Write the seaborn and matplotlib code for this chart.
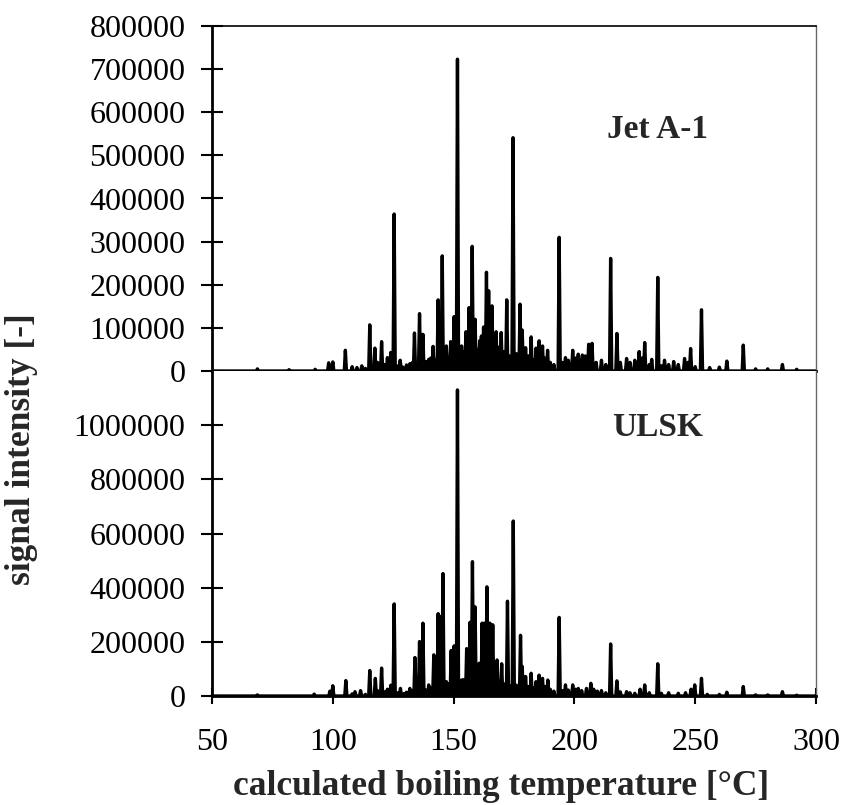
import numpy as np
import pandas as pd
import matplotlib
matplotlib.use("Agg")
import matplotlib.pyplot as plt
import seaborn as sns

# ---- peak tables: calculated boiling temperature [°C] and signal intensity [-] ----
jet_main_t = [68.8, 81.9, 92.7, 98.3, 100.0, 105.2, 115.3, 117.4, 120.2, 122.6, 124.0,
              125.4, 127.9, 131.9, 133.8, 135.9, 137.3, 139.7, 141.5, 143.6, 145.3, 147.0,
              148.8, 150.2, 151.6, 153.3, 155.1, 156.4, 157.7, 158.9, 161.5, 162.4, 163.6,
              164.5, 165.9, 167.6, 169.7, 172.0, 174.6, 177.5, 178.4, 179.8, 182.1, 184.1,
              185.4, 186.8, 188.9, 193.7, 196.3, 199.3, 201.6, 203.3, 205.9, 207.3, 211.2,
              215.0, 217.6, 221.6, 226.8, 229.1, 232.0, 234.5, 237.3, 241.1, 245.6, 248.1,
              252.6, 263.1, 269.9, 286.1]
jet_main_h = [5000, 3000, 4000, 19000, 21000, 48000, 107000, 53000, 68000, 31000, 43000,
              364000, 25000, 17000, 88000, 133000, 85000, 27000, 57000, 165000, 267000, 58000,
              68000, 126000, 723000, 58000, 91000, 147000, 289000, 120000, 81000, 102000, 229000,
              186000, 151000, 91000, 89000, 165000, 541000, 155000, 95000, 54000, 79000, 53000,
              70000, 58000, 48000, 310000, 31000, 48000, 39000, 37000, 62000, 64000, 25000,
              261000, 87000, 29000, 45000, 66000, 27000, 217000, 25000, 22000, 29000, 52000,
              142000, 23000, 60000, 15000]
jet_minor_t = [108.0, 110.0, 112.0, 113.5, 118.5, 121.5, 123.0, 127.0, 129.0, 130.5, 133.0,
               138.5, 140.5, 142.5, 146.0, 148.0, 149.5, 152.5, 154.0, 155.8, 157.0, 159.8,
               160.8, 163.0, 165.0, 166.8, 168.7, 170.8, 171.4, 173.0, 176.0, 178.9, 181.0,
               183.0, 187.7, 190.0, 191.5, 195.0, 197.5, 198.5, 200.5, 202.5, 204.5, 209.0,
               213.0, 219.0, 223.0, 225.0, 228.0, 231.0, 236.0, 239.0, 243.0, 247.0, 250.0,
               256.0, 260.0, 275.0, 280.0, 292.0]
jet_minor_h = [10000, 8000, 12000, 6000, 20000, 15000, 20000, 12000, 9000, 14000, 20000,
               22000, 30000, 25000, 35000, 30000, 40000, 30000, 45000, 60000, 40000, 50000,
               70000, 45000, 60000, 40000, 55000, 45000, 30000, 35000, 40000, 30000, 35000,
               25000, 30000, 20000, 15000, 20000, 25000, 15000, 30000, 25000, 35000, 20000,
               15000, 20000, 20000, 25000, 30000, 15000, 12000, 15000, 15000, 20000, 10000,
               8000, 9000, 5000, 5000, 4000]

ulsk_main_t = [68.8, 92.3, 98.8, 100.0, 105.4, 109.2, 111.5, 115.3, 117.6, 120.2, 122.6,
               124.0, 125.4, 128.0, 131.9, 134.0, 135.9, 137.3, 139.7, 141.8, 143.6, 144.4,
               145.6, 147.0, 149.0, 150.2, 151.6, 153.3, 155.4, 156.8, 157.8, 158.9, 160.6,
               161.8, 162.7, 163.8, 165.0, 166.2, 168.0, 169.9, 172.3, 174.7, 177.7, 178.4,
               179.8, 182.1, 184.1, 185.4, 186.8, 189.0, 193.7, 196.3, 199.3, 201.6, 206.8,
               211.2, 215.0, 217.6, 221.6, 227.2, 229.1, 234.5, 239.0, 246.0, 248.3, 249.8,
               252.6, 263.1, 269.9, 286.1]
ulsk_main_h = [4000, 7000, 18000, 38000, 57000, 16000, 20000, 94000, 65000, 103000, 25000,
               40000, 340000, 28000, 28000, 142000, 201000, 269000, 41000, 152000, 304000, 294000,
               452000, 53000, 168000, 185000, 1130000, 59000, 175000, 272000, 496000, 329000, 121000,
               269000, 269000, 403000, 269000, 263000, 133000, 119000, 350000, 646000, 224000, 109000,
               72000, 84000, 53000, 77000, 65000, 59000, 290000, 41000, 41000, 28000, 47000,
               20000, 192000, 56000, 16000, 25000, 41000, 119000, 12000, 12000, 25000, 41000,
               65000, 14000, 35000, 16000]
ulsk_minor_t = [108.0, 113.5, 118.5, 121.5, 123.0, 127.0, 129.5, 130.5, 133.0, 138.5, 140.5,
                142.5, 146.0, 148.0, 152.5, 154.0, 156.0, 157.2, 159.8, 161.0, 163.0, 164.5,
                167.0, 168.8, 170.8, 171.5, 173.0, 176.0, 179.0, 181.0, 183.0, 187.7, 190.0,
                191.5, 195.0, 197.5, 200.5, 203.0, 205.0, 208.0, 209.5, 213.0, 219.0, 223.0,
                225.0, 231.0, 236.0, 243.0, 255.0, 260.0, 275.0, 280.0, 292.0]
ulsk_minor_h = [8000, 6000, 20000, 15000, 20000, 12000, 9000, 14000, 20000, 22000, 30000,
                35000, 40000, 45000, 40000, 60000, 80000, 60000, 70000, 90000, 60000, 80000,
                60000, 55000, 45000, 35000, 40000, 40000, 30000, 35000, 30000, 35000, 25000,
                18000, 20000, 22000, 25000, 20000, 28000, 25000, 18000, 12000, 15000, 12000,
                10000, 12000, 10000, 10000, 6000, 6000, 4000, 4000, 3000]

x_ticks = [50, 100, 150, 200, 250, 300]
jet_y_ticks = [0, 100000, 200000, 300000, 400000, 500000, 600000, 700000, 800000]
ulsk_y_ticks = [0, 200000, 400000, 600000, 800000, 1000000]
panel_names = ["Jet A-1", "ULSK"]


def chromatogram(peak_t, peak_h, half_width=0.45, x0=50.0, x1=300.0):
    """Turn a peak table into a spiky trace that returns to the baseline between peaks."""
    t = np.asarray(peak_t, float)
    h = np.asarray(peak_h, float)
    order = np.argsort(t)
    xs, ys = [x0], [0.0]
    for p, v in zip(t[order], h[order]):
        xs += [p - half_width, p, p + half_width]
        ys += [0.0, v, 0.0]
    xs.append(x1)
    ys.append(0.0)
    return pd.DataFrame({"temperature": xs, "signal": ys})


jet_df = chromatogram(jet_main_t + jet_minor_t, jet_main_h + jet_minor_h)
ulsk_df = chromatogram(ulsk_main_t + ulsk_minor_t, ulsk_main_h + ulsk_minor_h)

sns.set_theme(style="ticks")
plt.rcParams["font.family"] = ["Liberation Serif", "DejaVu Serif"]
plt.rcParams["font.size"] = 23

fig = plt.figure(figsize=(8.42, 8.05), dpi=100)
W, H = 842.0, 805.0
left, right = 212 / W, 816 / W
ax_top = fig.add_axes([left, 1 - 371 / H, right - left, (371 - 26) / H])
ax_bot = fig.add_axes([left, 1 - 696 / H, right - left, (696 - 371) / H], sharex=ax_top)

for ax, df, yt, ymax in [(ax_top, jet_df, jet_y_ticks, 800000),
                         (ax_bot, ulsk_df, ulsk_y_ticks, 1200000)]:
    sns.lineplot(data=df, x="temperature", y="signal", ax=ax, sort=False,
                 estimator=None, color="black", linewidth=2.4)
    ax.set_xlim(50, 300)
    ax.set_ylim(0, ymax)
    ax.set_yticks(yt)
    ax.set_yticklabels([str(v) for v in yt])
    ax.set_xlabel("")
    ax.set_ylabel("")
    ax.tick_params(axis="y", direction="inout", length=16, width=1.5, pad=11,
                   labelsize=23, colors="black")
    for s in ("left", "bottom"):
        ax.spines[s].set_linewidth(2.0)
        ax.spines[s].set_color("black")
    ax.spines["right"].set_visible(True)
    ax.spines["right"].set_linewidth(1.0)
    ax.spines["right"].set_color("#666666")

ax_top.spines["top"].set_visible(True)
ax_top.spines["top"].set_linewidth(1.2)
ax_top.spines["top"].set_color("black")
ax_bot.spines["top"].set_visible(False)
ax_top.tick_params(axis="x", which="both", bottom=False, labelbottom=False)

ax_bot.set_xticks(x_ticks)
ax_bot.set_xticklabels([str(v) for v in x_ticks])
ax_bot.tick_params(axis="x", direction="inout", length=12, width=1.5, pad=17,
                   labelsize=23, colors="black")

ax_top.text(0.737, 0.699, panel_names[0], transform=ax_top.transAxes, ha="center",
            va="center", fontsize=24, fontweight="bold")
ax_bot.text(0.737, 0.825, panel_names[1], transform=ax_bot.transAxes, ha="center",
            va="center", fontsize=24, fontweight="bold")

fig.text(501 / W, 1 - 786 / H, "calculated boiling temperature [°C]", ha="center",
         va="center", fontsize=25.5, fontweight="bold")
fig.text(22 / W, 1 - 449 / H, "signal intensity [-]", ha="center", va="center",
         rotation=90, fontsize=25.5, fontweight="bold")

fig.savefig("out.png", dpi=100)
